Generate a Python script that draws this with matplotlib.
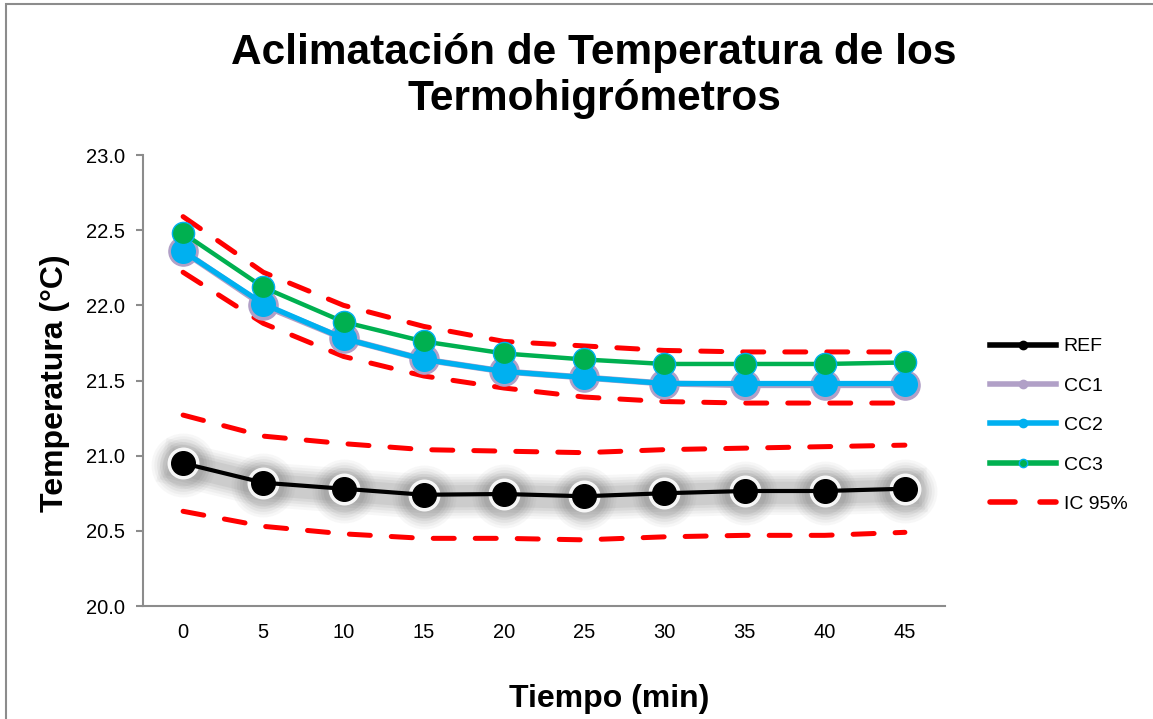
import matplotlib
matplotlib.use("Agg")
import matplotlib.pyplot as plt
from matplotlib.patches import Rectangle
from matplotlib.lines import Line2D

plt.rcParams['font.family'] = ['Liberation Sans', 'DejaVu Sans']

tiempo = [0, 5, 10, 15, 20, 25, 30, 35, 40, 45]
ref = [20.95, 20.82, 20.78, 20.74, 20.745, 20.73, 20.75, 20.765, 20.765, 20.78]
ref_ic_sup = [21.27, 21.13, 21.08, 21.04, 21.03, 21.02, 21.04, 21.05, 21.06, 21.07]
ref_ic_inf = [20.63, 20.53, 20.48, 20.45, 20.45, 20.44, 20.46, 20.47, 20.47, 20.49]
cc1 = [22.36, 22.00, 21.78, 21.64, 21.56, 21.52, 21.48, 21.47, 21.47, 21.47]
cc2 = [22.36, 22.01, 21.78, 21.64, 21.56, 21.52, 21.48, 21.48, 21.48, 21.48]
cc3 = [22.48, 22.12, 21.89, 21.76, 21.68, 21.64, 21.61, 21.61, 21.61, 21.62]
cc_ic_sup = [22.59, 22.22, 22.00, 21.86, 21.76, 21.73, 21.70, 21.69, 21.69, 21.69]
cc_ic_inf = [22.22, 21.88, 21.66, 21.53, 21.45, 21.39, 21.36, 21.35, 21.35, 21.35]

W, H = 1153, 719
fig = plt.figure(figsize=(W / 100, H / 100), dpi=100)
fig.patches.append(Rectangle((6 / W, -0.1), 1.2, 1 - 4 / H + 0.1, transform=fig.transFigure,
                             fill=False, edgecolor='#8c8c8c', linewidth=1.5))

ax = fig.add_axes([143 / W, 1 - 606 / H, (945 - 143) / W, (606 - 155) / H])
x = list(range(len(tiempo)))

red = '#FF0000'
dash = (0, (4.2, 4.2))
# IC bands
ax.plot(x, ref_ic_sup, color=red, lw=3.6, linestyle=dash, dash_capstyle='round', zorder=2)
ax.plot(x, ref_ic_inf, color=red, lw=3.6, linestyle=dash, dash_capstyle='round', zorder=2)
ax.plot(x, cc_ic_sup, color=red, lw=3.6, linestyle=dash, dash_capstyle='round', zorder=2)
ax.plot(x, cc_ic_inf, color=red, lw=3.6, linestyle=dash, dash_capstyle='round', zorder=2)

# glow around REF
for ms, lw, a in [(46, 32, 0.05), (42, 28, 0.06), (38, 24, 0.08), (34, 20, 0.09), (30, 16, 0.10)]:
    ax.plot(x, [v - 0.012 for v in ref], color='#6a6a6a', lw=lw, marker='o', ms=ms,
            markeredgewidth=0, alpha=a, zorder=3)
ax.plot(x, ref, color='white', lw=0, marker='o', ms=23, markeredgewidth=0, alpha=0.9, zorder=3.5)

ax.plot(x, ref, color='black', lw=3, marker='o', ms=17, zorder=4)
ax.plot(x, cc1, color='#B1A0C7', lw=4.5, marker='o', ms=21, zorder=5)
ax.plot(x, cc2, color='#00B0F0', lw=3.8, marker='o', ms=17, zorder=6)
ax.plot(x, cc3, color='#00B050', lw=3.2, marker='o', ms=16, markeredgecolor='#00B0F0',
        markeredgewidth=1, zorder=7)

ax.set_xlim(-0.5, 9.5)
ax.set_ylim(20.0, 23.0)
ax.set_xticks(x)
ax.set_xticklabels([str(t) for t in tiempo], fontsize=14.5)
ax.set_yticks([20.0, 20.5, 21.0, 21.5, 22.0, 22.5, 23.0])
ax.set_yticklabels(['20.0', '20.5', '21.0', '21.5', '22.0', '22.5', '23.0'], fontsize=14.5)
ax.tick_params(axis='x', length=0, pad=12)
ax.tick_params(axis='y', length=5, width=1.5, color='#8c8c8c', pad=8)
for s in ['top', 'right']:
    ax.spines[s].set_visible(False)
for s in ['left', 'bottom']:
    ax.spines[s].set_color('#8c8c8c')
    ax.spines[s].set_linewidth(1.5)

fig.text(609 / W, 1 - 699 / H, 'Tiempo (min)', ha='center', va='center',
         fontsize=23, fontweight='bold')
fig.text(55 / W, 1 - 383 / H, 'Temperatura (°C)', ha='center', va='center',
         rotation=90, fontsize=23, fontweight='bold')
fig.text(594 / W, 1 - 76 / H, 'Aclimatación de Temperatura de los\nTermohigrómetros',
         ha='center', va='center', fontsize=30.5, fontweight='bold', linespacing=1.2)

handles = [
    Line2D([], [], color='black', lw=4, marker='o', ms=6),
    Line2D([], [], color='#B1A0C7', lw=4, marker='o', ms=6),
    Line2D([], [], color='#00B0F0', lw=4, marker='o', ms=6),
    Line2D([], [], color='#00B050', lw=4, marker='o', ms=6, markeredgecolor='#00B0F0'),
    Line2D([], [], color=red, lw=4, linestyle=(0, (4.5, 4.5)), dash_capstyle='round'),
]
labels = ['REF', 'CC1', 'CC2', 'CC3', 'IC 95%']
fig.legend(handles, labels, loc='upper left', bbox_to_anchor=(982 / W, 1 - 330 / H),
           frameon=False, fontsize=14, handlelength=3.4, handletextpad=0.4,
           labelspacing=1.12, borderaxespad=0)

fig.savefig('out.png', dpi=100)
